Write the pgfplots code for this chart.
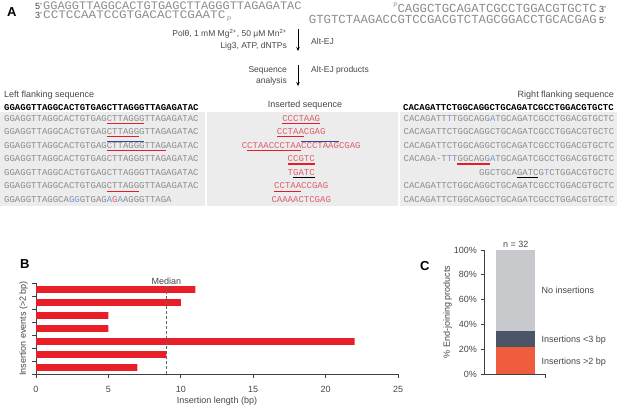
\documentclass[border=0pt]{standalone}
\usepackage{fontspec}
\setmainfont{Liberation Sans}
\setmonofont{Liberation Mono}
\usepackage{graphicx}
\usepackage{pgfplots}
\pgfplotsset{compat=1.18}
\usetikzlibrary{arrows.meta}

\definecolor{seqgray}{RGB}{140,140,140}
\definecolor{txtgray}{RGB}{70,70,70}
\definecolor{inscol}{RGB}{222,95,110}
\definecolor{ulred}{RGB}{228,30,40}
\definecolor{ulblue}{RGB}{55,70,150}
\definecolor{ltblue}{RGB}{120,150,205}
\definecolor{boxgray}{RGB}{236,236,236}
\definecolor{barred}{RGB}{232,30,40}
\definecolor{corange}{RGB}{239,92,62}
\definecolor{cslate}{RGB}{74,85,104}
\definecolor{cgray}{RGB}{200,201,204}

\newcommand{\fs}[1]{\fontsize{#1}{#1}\selectfont}
\newcommand{\rf}{\ttfamily\fs{9}}
% underline: colour, x of first char, from char, to char, y
\newcommand{\ul}[5]{\draw[#1,line width=1.1pt] ({#2+(#3-1)*5.4},#5) -- ({#2+(#4)*5.4},#5);}

\begin{document}
\begin{tikzpicture}
\path[use as bounding box] (0pt,0pt) rectangle (617pt,-405pt);

\begin{scope}[x=1pt,y=-1pt,every node/.style={inner sep=0pt}]
% ---- panel A: substrate
\node[anchor=base west] at (7,16) {\bfseries\fs{13}A};
\node[anchor=base west,text=txtgray] at (35,9.6) {\fs{9}5'};
\node[anchor=base west,text=seqgray] at (43,9.6) {\scalebox{1.04}[1]{\ttfamily\fs{11.5}GGAGGTTAGGCACTGTGAGCTTAGGGTTAGAGATAC}};
\node[anchor=base west,text=txtgray] at (35,18.5) {\fs{9}3'};
\node[anchor=base west,text=seqgray] at (43,18.5) {\scalebox{1.1}[1]{\ttfamily\fs{11.5}CCTCCAATCCGTGACACTCGAATC}};
\node[anchor=base west,text=seqgray] at (227,21) {\fs{6.5}P};
\node[anchor=base east,text=seqgray] at (398,7.5) {\fs{6.5}P};
\node[anchor=base east,text=seqgray] at (597,12.5) {\ttfamily\fs{12.3}CAGGCTGCAGATCGCCTGGACGTGCTC};
\node[anchor=base west,text=txtgray] at (599,12.5) {\fs{9}3'};
\node[anchor=base east,text=seqgray] at (597,23) {\ttfamily\fs{12.3}GTGTCTAAGACCGTCCGACGTCTAGCGGACCTGCACGAG};
\node[anchor=base west,text=txtgray] at (599,23) {\fs{9}5'};

% ---- steps
\node[anchor=base east,text=txtgray] at (287,36) {\fs{8.5}Polθ, 1 mM Mg\textsuperscript{2+}, 50 μM Mn\textsuperscript{2+}};
\node[anchor=base east,text=txtgray] at (287,48) {\fs{8.5}Lig3, ATP, dNTPs};
\draw[-{Stealth[length=4pt,width=3.5pt]},line width=1pt] (298,29) -- (298,51);
\node[anchor=base west,text=txtgray] at (311,44.5) {\fs{8.5}Alt-EJ};
\node[anchor=base east,text=txtgray] at (287,72.5) {\fs{8.5}Sequence};
\node[anchor=base east,text=txtgray] at (287,83) {\fs{8.5}analysis};
\draw[-{Stealth[length=4pt,width=3.5pt]},line width=1pt] (298,65) -- (298,86);
\node[anchor=base west,text=txtgray] at (311,72) {\fs{8.5}Alt-EJ products};

% ---- table
\fill[boxgray] (0,112) rectangle (204.5,206);
\fill[boxgray] (206.5,112) rectangle (397.5,206);
\fill[boxgray] (399.5,112) rectangle (617,206);
\node[anchor=base west,text=txtgray] at (4,97) {\fs{9}Left flanking sequence};
\node[anchor=base,text=txtgray] at (305,107) {\fs{9}Inserted sequence};
\node[anchor=base east,text=txtgray] at (614,97) {\fs{9}Right flanking sequence};
\node[anchor=base west] at (4,110) {\rf\bfseries GGAGGTTAGGCACTGTGAGCTTAGGGTTAGAGATAC};
\node[anchor=base east] at (614,110) {\rf\bfseries CACAGATTCTGGCAGGCTGCAGATCGCCTGGACGTGCTC};

% left flanking rows
\begin{scope}[every node/.append style={anchor=base west,text=seqgray}]
\node at (4,121)    {\rf GGAGGTTAGGCACTGTGAGCTTAGGGTTAGAGATAC};
\node at (4,134.55) {\rf GGAGGTTAGGCACTGTGAGCTTAGGGTTAGAGATAC};
\node at (4,148.1)  {\rf GGAGGTTAGGCACTGTGAGCTTAGGGTTAGAGATAC};
\node at (4,161.65) {\rf GGAGGTTAGGCACTGTGAGCTTAGGGTTAGAGATAC};
\node at (4,175.2)  {\rf GGAGGTTAGGCACTGTGAGCTTAGGGTTAGAGATAC};
\node at (4,188.75) {\rf GGAGGTTAGGCACTGTGAGCTTAGGGTTAGAGATAC};
\node at (4,202.3)  {\rf GGAGGTTAGGCA\textcolor{ltblue}{GG}GTGAG\textcolor{ltblue}{A}\textcolor{inscol}{G}\textcolor{ltblue}{A}AGGGTTAGA};
\end{scope}
\ul{ulred}{4}{20}{26}{123.3}
\ul{ulred}{4}{20}{25}{136.85}
\ul{ulred}{4}{20}{30}{150.4}
\ul{ulblue}{4}{20}{26}{141.3}
\ul{ulred}{4}{20}{25}{191.05}

% inserted rows
\begin{scope}[every node/.append style={anchor=base west,text=inscol}]
\node at (282.1,121)    {\rf CCCTAAG};
\node at (276.7,134.55) {\rf CCTAACGAG};
\node at (241.6,148.1)  {\rf CCTAACCCTAACCCTAAGCGAG};
\node at (287.5,161.65) {\rf CCGTC};
\node at (287.5,175.2)  {\rf TGATC};
\node at (274,188.75)   {\rf CCTAACCGAG};
\node at (271.3,202.3)  {\rf CAAAACTCGAG};
\end{scope}
\ul{ulred}{282.1}{1}{7}{123.3}
\ul{ulred}{276.7}{1}{5}{136.85}
\ul{ulred}{241.6}{2}{11}{150.4}
\ul{ulblue}{241.6}{12}{18}{141.3}
\ul{ulred}{287.5}{1}{5}{163.95}
\ul{black}{287.5}{2}{5}{177.5}
\ul{ulred}{274}{1}{5}{191.05}

% right flanking rows
\begin{scope}[every node/.append style={anchor=base west,text=seqgray}]
\node at (403.4,121)    {\rf CACAGATT\textcolor{ltblue}{T}TGGCAGG\textcolor{ltblue}{A}TGCAGATCGCCTGGACGTGCTC};
\node at (403.4,134.55) {\rf CACAGATTCTGGCAGGCTGCAGATCGCCTGGACGTGCTC};
\node at (403.4,148.1)  {\rf CACAGATTCTGGCAGGCTGCAGATCGCCTGGACGTGCTC};
\node at (403.4,161.65) {\rf CACAGA-T\textcolor{ltblue}{T}TGGCAGG\textcolor{ltblue}{A}TGCAGATCGCCTGGACGTGCTC};
\node at (479,175.2)    {\rf GGCTGCAGATCG\textcolor{ltblue}{T}CTGGACGTGCTC};
\node at (403.4,188.75) {\rf CACAGATTCTGGCAGGCTGCAGATCGCCTGGACGTGCTC};
\node at (403.4,202.3)  {\rf CACAGATTCTGGCAGGCTGCAGATCGCCTGGACGTGCTC};
\end{scope}
\ul{ulred}{403.4}{11}{16}{163.95}
\ul{black}{479}{8}{11}{177.5}

% panel letters
\node[anchor=base west] at (20,268) {\bfseries\fs{13}B};
\node[anchor=base west] at (420,270) {\bfseries\fs{13}C};
\end{scope}

% ---- panel B
\begin{axis}[
  at={(36pt,-374pt)}, anchor=south west,
  scale only axis, width=362pt, height=91pt,
  xmin=0, xmax=25, ymin=0.5, ymax=7.5,
  axis lines*=left,
  axis line style={black!75, line width=0.8pt},
  xtick={0,5,...,25}, ytick={0.5,1.5,...,7.5}, yticklabels={},
  tick align=outside, major tick length=3.5pt,
  tick style={black!75, line width=0.8pt},
  tick label style={font=\fs{9}, text=txtgray},
  /pgf/number format/assume math mode=true,
  xticklabel style={yshift=-5pt},
  xlabel={Insertion length (bp)},
  xlabel style={at={(axis description cs:0.5,0)}, anchor=base, yshift=-29pt, font=\fs{9}, text=txtgray},
  ylabel={Insertion events (>2 bp)},
  ylabel style={at={(axis description cs:-0.0345,0.5)}, anchor=center, font=\fs{9}, text=txtgray},
  clip=false,
]
\addplot[xbar, bar width=6.7pt, fill=barred, draw=none]
  coordinates {(7,1) (9,2) (22,3) (5,4) (5,5) (10,6) (11,7)};
\addplot[black!60, line width=0.8pt, dash pattern=on 3pt off 2pt]
  coordinates {(9,0.5) (9,7.35)};
\node[anchor=base, font=\fs{9}, text=txtgray] at (axis cs:9,7.5) [yshift=-1pt] {Median};
\end{axis}

% ---- panel C
\begin{axis}[
  at={(484pt,-374pt)}, anchor=south west,
  scale only axis, width=61pt, height=124pt,
  xmin=-0.81, xmax=0.75, ymin=0, ymax=100,
  axis lines*=left,
  axis line style={black!75, line width=0.8pt},
  ybar stacked, bar width=39pt,
  ytick={0,20,...,100}, yticklabel={\pgfmathprintnumber{\tick}\%},
  xtick={0.75}, xticklabels={},
  tick align=outside, major tick length=3.5pt,
  tick style={black!75, line width=0.8pt},
  tick label style={font=\fs{9}, text=txtgray},
  /pgf/number format/assume math mode=true,
  ylabel={\% End-joining products},
  ylabel style={at={(axis description cs:-0.598,0.5)}, anchor=center, font=\fs{9}, text=txtgray},
  clip=false,
]
\addplot[fill=corange, draw=none] coordinates {(0,21.875)};
\addplot[fill=cslate, draw=none] coordinates {(0,12.5)};
\addplot[fill=cgray, draw=none] coordinates {(0,65.625)};
\node[anchor=base, font=\fs{9}, text=txtgray] at (axis cs:0,100) [yshift=2.7pt] {n = 32};
\node[anchor=base west, font=\fs{9}, text=txtgray] at (axis cs:0.571,65.1) {No insertions};
\node[anchor=base west, font=\fs{9}, text=txtgray] at (axis cs:0.571,25.5) {Insertions <3 bp};
\node[anchor=base west, font=\fs{9}, text=txtgray] at (axis cs:0.571,7.5) {Insertions >2 bp};
\end{axis}
\end{tikzpicture}
\end{document}
